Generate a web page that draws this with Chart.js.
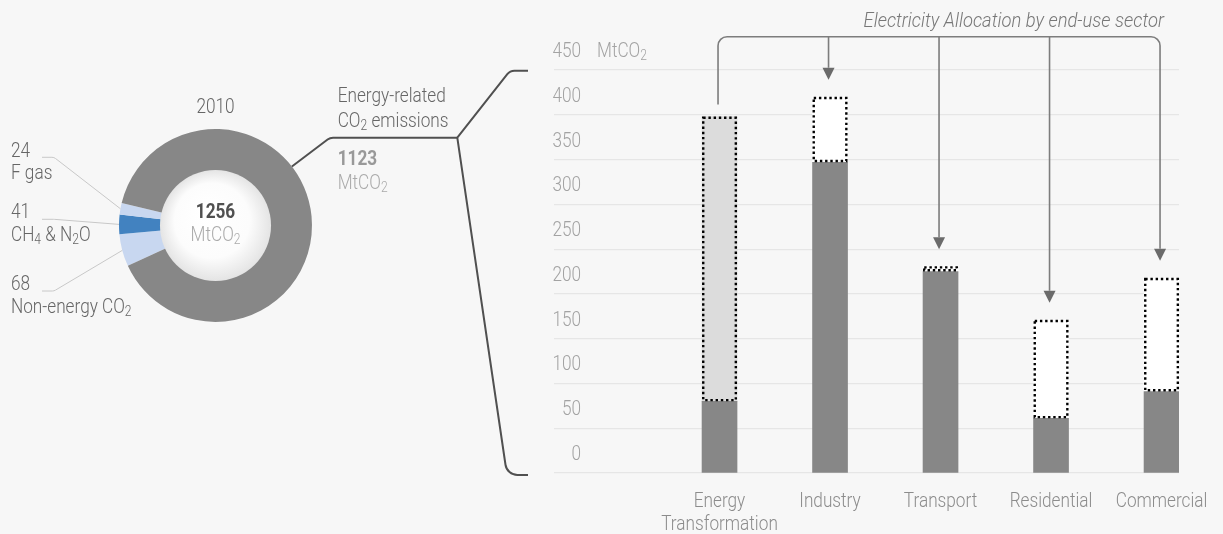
<!DOCTYPE html>
<html>
<head>
<meta charset="utf-8">
<script src="https://cdn.jsdelivr.net/npm/chart.js@4.4.1/dist/chart.umd.min.js"></script>
<style>
  html, body { margin: 0; padding: 0; background: #f7f7f7; }
  #wrap { position: relative; width: 1223px; height: 534px; }
  canvas { position: absolute; left: 0; top: 0; }
</style>
</head>
<body>
<div id="wrap">
  <canvas id="donut" width="540" height="534"></canvas>
  <canvas id="bars" width="1223" height="534"></canvas>
</div>
<script>
const FONT = "Roboto, sans-serif";
const SQUEEZE = 0.86; // no condensed face installed, so text is narrowed by hand

// donut: total greenhouse gas emissions, 2010 (MtCO2)
const year = '2010';
const ghgLabels = ['Non-energy CO_2', 'CH_4 & N_2O', 'F gas', 'Energy-related CO_2'];
const ghgValues = [68, 41, 24, 1123];
const ghgColors = ['#c8d7f0', '#4282c0', '#c8d7f0', '#878787'];

// bars: energy-related CO2 by sector (MtCO2)
const sectors = [['Energy', 'Transformation'], ['Industry'], ['Transport'], ['Residential'], ['Commercial']];
const directEmissions = [80, 347, 225, 61, 91];
const electricityEmissions = [318, 73, 6, 110, 127];
const electricityColors = ['#dcdcdc', '#ffffff', '#ffffff', '#ffffff', '#ffffff'];
const yMax = 450;
const yStep = 50;

// draws text where "_2" style digits become subscripts
function richText(ctx, text, x, y, opts) {
    const size = opts.size || 20;
    const weight = opts.weight || '300';
    const style = opts.style || 'normal';
    const sx = opts.sx || SQUEEZE;
    const mainFont = `${style} ${weight} ${size}px ${FONT}`;
    const subFont = `${style} ${weight} ${Math.round(size * 0.72)}px ${FONT}`;
    const parts = String(text).split(/_(\d)/);
    ctx.save();
    ctx.fillStyle = opts.color;
    ctx.textBaseline = 'middle';
    ctx.textAlign = 'left';
    let total = 0;
    parts.forEach((t, i) => { ctx.font = i % 2 ? subFont : mainFont; total += ctx.measureText(t).width; });
    let start = x;
    if (opts.align === 'center') start = x - total * sx / 2;
    else if (opts.align === 'right') start = x - total * sx;
    ctx.translate(start, y);
    ctx.scale(sx, 1);
    let cx = 0;
    parts.forEach((t, i) => {
        ctx.font = i % 2 ? subFont : mainFont;
        ctx.fillText(t, cx, i % 2 ? size * 0.24 : 0);
        cx += ctx.measureText(t).width;
    });
    ctx.restore();
}

const total = ghgValues.reduce((a, b) => a + b, 0);

const donutDecor = {
    id: 'donutDecor',
    afterDatasetsDraw(chart) {
        const ctx = chart.ctx;
        const arcs = chart.getDatasetMeta(0).data;
        const { x, y, innerRadius, outerRadius } = arcs[0].getProps(['x', 'y', 'innerRadius', 'outerRadius'], true);

        // white centre disc with soft shading
        const g = ctx.createRadialGradient(x - 10, y - 14, 4, x, y, innerRadius + 1);
        g.addColorStop(0, '#ffffff');
        g.addColorStop(0.65, '#fcfcfc');
        g.addColorStop(1, '#e4e4e4');
        ctx.save();
        ctx.beginPath();
        ctx.arc(x, y, innerRadius + 1, 0, Math.PI * 2);
        ctx.fillStyle = g;
        ctx.fill();
        ctx.restore();

        richText(ctx, total, x, y - 12.5, { color: '#505050', align: 'center', weight: 'bold' });
        richText(ctx, 'MtCO_2', x, y + 10.5, { color: '#aaaaaa', align: 'center' });
        richText(ctx, year, x, 108, { color: '#666', align: 'center' });

        // left labels with leader lines
        const leftY = [285, 213, 151.7];
        const lineY = [291, 219.3, 157.3];
        ctx.save();
        ctx.strokeStyle = '#c8c8c8';
        ctx.lineWidth = 1;
        for (let i = 0; i < 3; i++) {
            richText(ctx, ghgValues[i], 11, leftY[i], { color: '#666' });
            richText(ctx, ghgLabels[i], 11, leftY[i] + 22.5, { color: '#666' });
            const a = arcs[i].getProps(['startAngle', 'endAngle'], true);
            const mid = (a.startAngle + a.endAngle) / 2;
            const ex = x + Math.cos(mid) * outerRadius;
            const ey = y + Math.sin(mid) * outerRadius;
            ctx.beginPath();
            ctx.moveTo(42, lineY[i]);
            ctx.arcTo(54, lineY[i], ex, ey, 6);
            ctx.lineTo(ex, ey);
            ctx.stroke();
        }
        ctx.restore();

        // connector to sector bars
        const sx = x + Math.cos(-0.657) * outerRadius;
        const sy = y + Math.sin(-0.657) * outerRadius;
        ctx.save();
        ctx.strokeStyle = '#505050';
        ctx.lineWidth = 2;
        ctx.lineJoin = 'round';
        ctx.beginPath();
        ctx.moveTo(sx, sy);
        ctx.arcTo(330, 137.7, 457, 137.7, 9);
        ctx.lineTo(457.3, 137.7);
        ctx.stroke();
        ctx.beginPath();
        ctx.moveTo(528, 70.7);
        ctx.arcTo(510, 70.7, 457.3, 137.7, 9);
        ctx.lineTo(457.3, 137.7);
        ctx.arcTo(507, 475, 528, 475, 12);
        ctx.lineTo(528, 475);
        ctx.stroke();
        ctx.restore();

        richText(ctx, 'Energy-related', 337.7, 97.3, { color: '#666' });
        richText(ctx, 'CO_2 emissions', 337.7, 121.7, { color: '#666' });
        richText(ctx, ghgValues[3], 337.7, 160, { color: '#999', weight: 'bold' });
        richText(ctx, 'MtCO_2', 337.7, 184, { color: '#aaaaaa' });
    }
};

new Chart(document.getElementById('donut'), {
    type: 'doughnut',
    data: {
        labels: ghgLabels,
        datasets: [{
            data: ghgValues,
            backgroundColor: ghgColors,
            borderWidth: 0
        }]
    },
    options: {
        responsive: false,
        animation: false,
        cutout: '56.5%',
        rotation: 245.3,
        layout: { padding: { left: 119, top: 129, right: 228, bottom: 212 } },
        plugins: { legend: { display: false }, tooltip: { enabled: false } }
    },
    plugins: [donutDecor]
});

const barDecor = {
    id: 'barDecor',
    afterDatasetsDraw(chart) {
        const ctx = chart.ctx;
        const xs = chart.scales.x;
        const ys = chart.scales.y;

        // dotted outline round the electricity part
        ctx.save();
        ctx.setLineDash([2.4, 2.8]);
        ctx.lineWidth = 2.4;
        ctx.strokeStyle = '#000';
        chart.getDatasetMeta(1).data.forEach(el => {
            const { x, y, base, width } = el.getProps(['x', 'y', 'base', 'width'], true);
            ctx.strokeRect(x - width / 2 + 1.2, y + 1.2, width - 2.4, base - y - 2.4);
        });
        ctx.restore();

        // y tick labels sit above their grid lines
        ys.ticks.forEach(t => richText(ctx, t.value, 581, ys.getPixelForValue(t.value) - 18,
            { color: '#a3a3a3', align: 'right' }));
        richText(ctx, 'MtCO_2', 597, ys.getPixelForValue(yMax) - 18, { color: '#a3a3a3' });

        // sector names under the bars
        xs.ticks.forEach(t => {
            const px = xs.getPixelForValue(t.value);
            sectors[t.value].forEach((line, j) => richText(ctx, line, px, 501.5 + j * 23.5,
                { color: '#8c8c8c', align: 'center' }));
        });

        // electricity allocation bracket
        const px = sectors.map((_, i) => xs.getPixelForValue(i) - 1.5);
        const tips = sectors.map((_, i) => ys.getPixelForValue(directEmissions[i] + electricityEmissions[i]) - 17);
        const topY = 36.7, r = 9, head = 12;
        ctx.save();
        ctx.strokeStyle = '#7d7d7d';
        ctx.lineWidth = 1.6;
        ctx.beginPath();
        ctx.moveTo(px[0], tips[0] + 5);
        ctx.arcTo(px[0], topY, px[0] + r, topY, r);
        ctx.arcTo(px[4], topY, px[4], topY + r, r);
        ctx.lineTo(px[4], tips[4] - head);
        for (let i = 1; i < 4; i++) {
            ctx.moveTo(px[i], topY);
            ctx.lineTo(px[i], tips[i] - head);
        }
        ctx.stroke();
        ctx.fillStyle = '#6b6b6b';
        for (let i = 1; i < 5; i++) {
            ctx.beginPath();
            ctx.moveTo(px[i], tips[i]);
            ctx.lineTo(px[i] - 6, tips[i] - head);
            ctx.lineTo(px[i] + 6, tips[i] - head);
            ctx.closePath();
            ctx.fill();
        }
        ctx.restore();

        richText(ctx, 'Electricity Allocation by end-use sector', px[4] + 4, 22,
            { color: '#777', align: 'right', style: 'italic', sx: 0.92 });
    }
};

new Chart(document.getElementById('bars'), {
    type: 'bar',
    data: {
        datasets: [{
            label: 'Direct emissions',
            data: directEmissions.map((v, i) => ({ x: i, y: v })),
            backgroundColor: '#878787',
            borderWidth: 0,
            stack: 's'
        }, {
            label: 'Electricity allocation',
            data: electricityEmissions.map((v, i) => ({ x: i, y: v })),
            backgroundColor: electricityColors,
            borderWidth: 0,
            stack: 's'
        }]
    },
    options: {
        responsive: false,
        animation: false,
        barThickness: 35,
        layout: { padding: { left: 554, right: 44, top: 70, bottom: 0 } },
        plugins: { legend: { display: false }, tooltip: { enabled: false } },
        scales: {
            x: {
                type: 'linear',
                offset: false,
                min: -1.498,
                max: 4.158,
                grid: { display: false, offset: false },
                border: { display: false },
                afterBuildTicks: scale => { scale.ticks = sectors.map((_, i) => ({ value: i })); },
                afterFit: scale => { scale.height = 61; },
                ticks: { display: false }
            },
            y: {
                stacked: true,
                min: 0,
                max: yMax,
                border: { display: false },
                grid: { color: '#e6e6e6', lineWidth: 1.2, drawTicks: false },
                afterFit: scale => { scale.width = 0; },
                ticks: { stepSize: yStep, display: false }
            }
        }
    },
    plugins: [barDecor]
});
</script>
</body>
</html>
